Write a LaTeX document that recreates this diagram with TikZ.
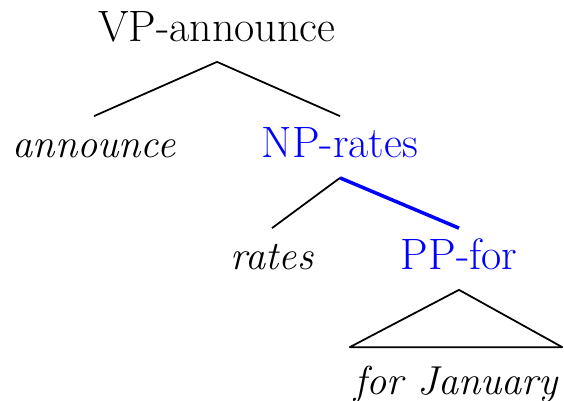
\documentclass[tikz,border=0pt]{standalone}
\usepackage{tikz}

\tikzset{
  lbl/.style={inner sep=0pt, anchor=base, text height=0.82cm, text depth=0.38cm,
    font=\fontsize{25}{30}\selectfont},
  head/.style={lbl, text=blue},
  word/.style={lbl, font=\fontsize{23}{27}\selectfont\itshape},
}

\begin{document}
\begin{tikzpicture}[x=0.02cm, y=-0.02cm, line width=1pt]
    \useasboundingbox (0,0) rectangle (564,401);

    \node[lbl] (VPA) at (217,42) {VP-announce};

        \node[word] (ANN) at (94,158) {announce};
        \node[head] (NPR) at (340,158) {NP-rates};

        \node[word] (RAT) at (272,270) {rates};
        \node[head] (PPF) at (459,270) {PP-for};

        \node[word, text height=0.94cm, inner xsep=2pt] (JAN) at (456,395) {for January};


        \draw (VPA.south) -- (ANN.north);
        \draw (VPA.south) -- (NPR.north);

        \draw (NPR.south) -- (RAT.north);
        \draw[blue, line width=2pt] (NPR.south) -- (PPF.north);

        % roof over the unanalysed phrase
        \draw[line join=round] (PPF.south) -- (JAN.north west) -- (JAN.north east) -- cycle;

    \end{tikzpicture}
\end{document}
